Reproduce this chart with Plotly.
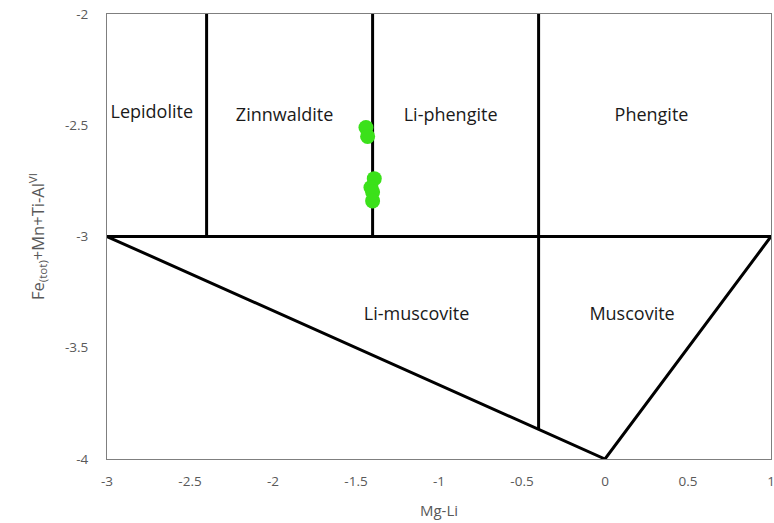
import plotly.graph_objects as go

# Field boundary lines (Mg-Li, Fe+Mn+Ti-AlVI)
boundary_x = [
    [-3, 1],            # horizontal at -3
    [-2.4, -2.4],
    [-1.4, -1.4],
    [-0.4, -0.4],
    [-3, 0, 1],         # lower triangle
]
boundary_y = [
    [-3, -3],
    [-2, -3],
    [-2, -3],
    [-2, -3.867],
    [-3, -4, -3],
]

# Sample points
sample_x = [-1.44, -1.43, -1.39, -1.41, -1.40, -1.40]
sample_y = [-2.51, -2.55, -2.74, -2.78, -2.80, -2.84]

# Field labels
field_names = ["Lepidolite", "Zinnwaldite", "Li-phengite", "Phengite", "Li-muscovite", "Muscovite"]
field_x = [-2.73, -1.93, -0.93, 0.28, -1.135, 0.163]
field_y = [-2.445, -2.46, -2.46, -2.46, -3.355, -3.355]

x_ticks = [-3, -2.5, -2, -1.5, -1, -0.5, 0, 0.5, 1]
y_ticks = [-4, -3.5, -3, -2.5, -2]

FONT = "Open Sans, Liberation Sans, sans-serif"

fig = go.Figure()
for bx, by in zip(boundary_x, boundary_y):
    fig.add_trace(go.Scatter(x=bx, y=by, mode="lines",
                             line=dict(color="black", width=3),
                             showlegend=False, hoverinfo="skip", cliponaxis=False))

fig.add_trace(go.Scatter(x=sample_x, y=sample_y, mode="markers",
                         marker=dict(color="#3be11a", size=15, line=dict(width=0)),
                         showlegend=False))

fig.add_trace(go.Scatter(x=field_x, y=field_y, mode="text", text=field_names,
                         textfont=dict(family=FONT, size=18, color="#1a1a1a"),
                         showlegend=False, hoverinfo="skip"))

tick_font = dict(family=FONT, size=13.5, color="#595959")

fig.update_layout(
    width=774, height=523,
    margin=dict(l=107, r=3, t=14, b=64, autoexpand=False),
    paper_bgcolor="white", plot_bgcolor="white",
    xaxis=dict(range=[-3, 1], tickvals=x_ticks, ticktext=[f"{v:g}" for v in x_ticks],
               showgrid=False, zeroline=False, showline=True, linecolor="#7f7f7f", linewidth=1,
               mirror=True, ticks="", tickfont=tick_font, ticklabelstandoff=10,
               ticklabeloverflow="allow", automargin=False,
               title=dict(text="Mg-Li", font=dict(family=FONT, size=15, color="#595959"), standoff=16)),
    yaxis=dict(range=[-4, -2], tickvals=y_ticks, ticktext=[f"{v:g}" for v in y_ticks],
               showgrid=False, zeroline=False, showline=True, linecolor="#7f7f7f", linewidth=1,
               mirror=True, ticks="", tickfont=tick_font, ticklabelstandoff=15, automargin=False,
               title=dict(text="Fe<sub>(tot)</sub>+Mn+Ti-Al<sup>VI</sup>",
                          font=dict(family=FONT, size=16.5, color="#595959"), standoff=16)),
)

fig.write_html("out.html")
